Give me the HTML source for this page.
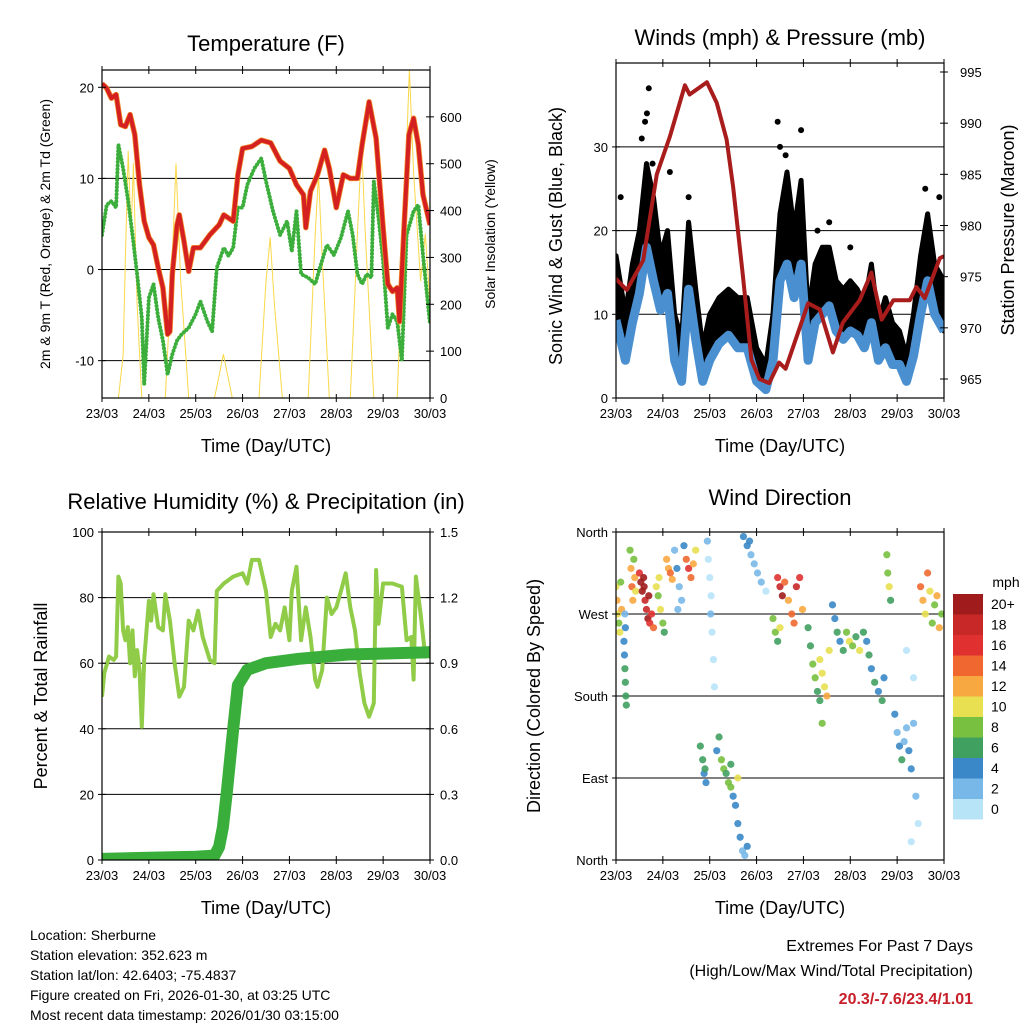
<!DOCTYPE html>
<html><head><meta charset="utf-8"><style>
body{margin:0;background:#fff;}
svg{display:block;font-family:"Liberation Sans",sans-serif;}
</style></head><body>
<svg id="c" width="1024" height="1024" viewBox="0 0 1024 1024"></svg>
<script>
// ---- data ----
const redTimes=[0,.1,.2,.3,.4,.5,.6,.7,.8,.9,1,1.1,1.2,1.3,1.4,1.45,1.5,1.6,1.65,1.75,1.85,1.95,2.1,2.3,2.5,2.6,2.8,2.9,3,3.2,3.4,3.6,3.8,4,4.15,4.3,4.35,4.45,4.6,4.75,4.85,5,5.15,5.3,5.45,5.55,5.7,5.85,6,6.1,6.2,6.3,6.35,6.45,6.55,6.65,6.75,6.85,7];
const tempRed=[20.4,19.9,18.8,19.2,15.9,15.7,17,14.8,9.3,5.3,3.5,2.7,0.2,-2,-7.1,-6.8,-0.5,4.9,6,3.1,-0.2,2.4,2.4,3.8,4.9,6,5.3,10.4,13.3,13.5,14.2,13.9,11.9,11.1,9.3,8.2,4.6,8.6,10.4,13.1,11.1,6.8,10.4,10,10,13.7,18.4,14.4,4.6,-1.6,-2.4,-2,-5.7,4.9,14.8,16.6,13.7,8.2,4.9];
const dewTimes=[0,.1,.2,.3,.35,.45,.55,.65,.75,.85,.9,1,1.1,1.2,1.3,1.4,1.5,1.6,1.7,1.85,2,2.1,2.25,2.35,2.45,2.6,2.7,2.8,2.9,3,3.1,3.25,3.4,3.5,3.65,3.8,3.95,4.05,4.15,4.25,4.4,4.55,4.65,4.8,4.95,5.1,5.25,5.35,5.45,5.55,5.65,5.75,5.8,5.9,6,6.1,6.2,6.3,6.4,6.5,6.65,6.75,6.85,7];
const dewGreen=[3.8,7.1,7.5,6.8,13.7,11.1,7.8,3.8,-0.5,-5.3,-12.6,-3.1,-1.6,-5.3,-7.8,-11.5,-9.3,-7.8,-7.1,-6.4,-4.9,-3.5,-5.7,-6.8,0.2,2.4,1.5,2.4,6.8,6.8,9.3,11.1,12.2,9.7,6.4,3.8,5.3,2,6.4,-0.5,-0.9,-1.6,0.2,2.7,1.6,3.5,6.4,3.8,-0.5,-1.6,-0.5,-0.9,9.7,5.7,0.9,-6.4,-4.9,-5.7,-10,3.8,6.4,7.1,1.6,-6];
const solarTimes=[0,0.35,0.45,0.5,0.56,0.62,0.67,0.75,0.85,1.35,1.5,1.58,1.68,1.85,2.4,2.59,2.78,3.35,3.5,3.59,3.68,3.85,4.4,4.55,4.62,4.7,4.85,5.3,5.45,5.54,5.62,5.8,6.3,6.45,6.56,6.65,6.8,6.9,7];
const solarVals=[0,0,90,300,527,350,500,200,0,0,300,500,250,0,0,93,0,0,250,342,200,0,0,350,477,300,0,0,350,541,350,0,0,400,700,480,250,350,200];
const windTimes=[0,.2,.35,.5,.65,.8,.95,1.1,1.25,1.4,1.55,1.7,1.85,2,2.2,2.4,2.6,2.8,3,3.2,3.35,3.5,3.65,3.8,3.95,4.1,4.25,4.4,4.55,4.7,4.85,5,5.15,5.3,5.45,5.6,5.75,5.9,6.05,6.2,6.35,6.5,6.65,6.8,7];
const windMean=[9.3,4.5,9,12.5,18,14,10.5,12.5,4.5,2,13,7,2,4.5,6.5,7.5,6,6,2,1,4.5,14,16,12,16,4.5,9,10,11,8,7,8,7.5,6,9,4.5,6,4,4,2,5,10,14,10,8];
const windGust=[17,10,16,20,28,24,17,20,10,7,21,13,6,10,12,13,12,12,6,4,10,22,27,20,26,10,16,18,18,14,13,14,13,11,16,9,12,9,8,5,10,17,22,16,14];
const gustPeakTimes=[0.55,0.62,0.66,0.7,0.78,0.1,1.15,1.55,3.45,3.5,3.62,3.95,4.3,4.55,5.0,6.6,6.9];
const gustPeakVals=[31,33,34,37,28,24,27,24,33,30,29,32,20,21,18,25,24];
const presTimes=[-0.05,.23,.58,.87,1.15,1.47,1.57,1.94,2.15,2.36,2.5,2.71,2.89,3.06,3.27,3.48,3.62,4.1,4.35,4.63,4.84,5.2,5.45,5.67,5.92,6.27,6.41,6.59,6.91,7];
const pressure=[975,973.7,976.6,985,988.7,993.7,992.8,994,992,988.4,983.8,975,966.9,965,964.6,966.6,966,972.4,971.8,967.6,970.5,972.7,975.4,970.8,972.7,972.7,974,972.9,976.8,977];
const rhTimes=[0,.05,.15,.25,.3,.35,.4,.45,.5,.55,.6,.65,.7,.75,.8,.85,.9,1,1.05,1.1,1.2,1.3,1.35,1.45,1.55,1.65,1.75,1.85,1.95,2.05,2.15,2.3,2.4,2.45,2.6,2.8,3,3.1,3.2,3.35,3.5,3.6,3.7,3.8,3.9,4,4.05,4.15,4.25,4.35,4.45,4.55,4.6,4.7,4.8,4.9,5,5.1,5.2,5.3,5.4,5.5,5.6,5.7,5.8,5.85,5.9,6,6.2,6.4,6.5,6.6,6.65,6.7,6.8,6.9,7];
const rh=[49.8,57,62,61,62,86.4,84.3,70,67,71,60,70,56,64,58,40.6,61,79,73,81,71,70,81,73,60,49.8,52.8,73,70,76,68,61,60,82,84.3,86.4,87.4,84.3,91.5,91.5,82,68,72,70,77,67,82,89.4,67,77,68,55,52.8,58,80,75,77,82,87.4,77,70,57,47.8,43.7,47.8,88.4,72,84.3,84.3,83.3,67,68,55,86.4,75,62,65];
const precTimes=[0,1,2,2.4,2.5,2.58,2.66,2.8,2.9,3.1,3.5,4.2,5.25,7];
const precip=[0.005,0.01,0.015,0.02,0.06,0.15,0.3,0.6,0.8,0.87,0.9,0.92,0.94,0.95];
// wind direction observations: [day, degrees, mph]
const windDirObs=[
[0.0,300,10],[0.02,285,12],[0.04,270,11],[0.06,260,9],[0.08,250,10],[0.1,305,8],[0.12,275,12],
[0.17,240,5],[0.18,225,4],[0.19,210,6],[0.2,195,7],[0.21,180,6],[0.22,170,7],[0.2,255,4],[0.19,270,3],
[0.3,340,9],[0.32,320,13],[0.34,300,14],[0.36,285,12],[0.38,330,8],[0.4,310,13],[0.42,295,11],
[0.5,315,17],[0.53,305,20],[0.56,295,21],[0.59,310,22],[0.62,285,19],[0.65,275,18],[0.68,265,20],[0.72,260,16],[0.76,270,17],[0.8,255,15],[0.6,300,20],[0.7,290,21],
[0.86,300,10],[0.9,290,9],[0.95,275,10],[1.0,260,8],[1.03,250,7],[0.92,310,11],
[1.08,330,12],[1.12,320,13],[1.16,315,14],[1.2,308,12],
[1.25,340,3],[1.3,320,4],[1.35,300,2],[1.4,285,3],[1.45,345,4],[1.32,275,3],
[1.5,330,14],[1.55,320,16],[1.6,310,15],[1.65,325,13],[1.7,340,10],
[1.95,350,2],[1.97,330,1],[2.0,310,0],[2.03,290,1],[2.05,250,1],[2.08,220,0],[2.1,190,1],[2.02,270,2],
[1.8,125,6],[1.85,110,7],[1.88,95,5],[1.92,85,4],[1.9,100,7],
[2.15,120,4],[2.2,135,6],[2.25,110,8],[2.3,100,9],[2.35,95,7],[2.4,85,8],[2.45,80,9],[2.5,70,5],[2.55,60,4],[2.6,40,4],[2.65,25,4],[2.7,10,3],[2.75,5,2],[2.8,15,4],[2.6,90,10],[2.45,105,7],
[2.72,355,4],[2.8,345,4],[2.88,335,3],[2.95,325,2],[3.02,315,3],[3.1,305,2],[3.2,295,1],[2.85,350,5],
[3.45,310,16],[3.5,300,18],[3.55,290,20],[3.6,305,14],[3.68,285,12],[3.75,270,15],[3.85,300,19],[3.92,310,17],[3.98,275,12],[3.8,260,14],
[3.35,265,9],[3.4,250,8],[3.45,240,7],[3.5,255,10],
[4.1,255,6],[4.15,235,7],[4.2,215,8],[4.25,200,8],[4.3,185,7],[4.35,175,7],
[4.35,220,10],[4.4,205,11],[4.45,190,10],[4.5,180,12],[4.55,230,11],[4.4,150,9],
[4.62,280,4],[4.67,265,5],[4.72,250,6],[4.78,240,5],[4.85,230,7],
[4.92,250,9],[4.98,240,10],[5.05,235,8],[5.12,245,7],[5.2,230,10],[5.28,250,7],
[5.35,240,5],[5.4,225,6],[5.45,210,4],[5.52,195,6],[5.6,185,5],[5.68,175,6],[5.72,200,4],
[5.78,335,8],[5.8,315,9],[5.83,300,10],[5.86,285,7],
[5.95,160,4],[6.0,140,3],[6.05,125,5],[6.1,110,6],[6.15,130,2],[6.2,145,3],[6.25,120,4],[6.3,100,5],[6.35,150,2],
[6.2,230,1],[6.35,200,1],[6.4,70,2],[6.45,40,1],[6.3,20,1],
[6.5,300,14],[6.55,285,12],[6.6,270,10],[6.65,315,15],[6.7,295,11],[6.75,260,9],[6.8,280,8],[6.85,290,13],[6.9,255,12],[6.95,270,9]
];
const tempTicks=[20,10,0,-10];
const solarTicks=[0,100,200,300,400,500,600];
const windTicks=[0,10,20,30];
const presTicks=[965,970,975,980,985,990,995];
const rhTicks=[0,20,40,60,80,100];
const precTicks=[0.0,0.3,0.6,0.9,1.2,1.5];
const dirTicks=[0,90,180,270,360];
const dirLabels=["North","East","South","West","North"];
const dayLabels=["23/03","24/03","25/03","26/03","27/03","28/03","29/03","30/03"];
const speedLabels=["0","2","4","6","8","10","12","14","16","18","20+"];
const speedColors=['#b8e4f8','#78b8e8','#3a88c8','#40a060','#78c040','#e8e050','#f8a840','#f06830','#e03030','#c82828','#a01c1c'];

const S="http://www.w3.org/2000/svg", svg=document.getElementById('c');
function el(tag,a,parent){const e=document.createElementNS(S,tag);for(const k in a)e.setAttribute(k,a[k]);(parent||svg).appendChild(e);return e;}
function txt(x,y,s,size,anchor,parent,extra){const t=el('text',Object.assign({x:x,y:y,'font-size':size,'text-anchor':anchor||'middle',fill:'#000'},extra||{}),parent);t.textContent=s;return t;}
function scale(d0,d1,r0,r1){return v=>r0+(v-d0)/(d1-d0)*(r1-r0);}
function pts(xs,ys,fx,fy){return xs.map((x,i)=>fx(x).toFixed(1)+','+fy(ys[i]).toFixed(1));}
function line(xs,ys,fx,fy,a,parent){return el('polyline',Object.assign({points:pts(xs,ys,fx,fy).join(' '),fill:'none','stroke-linejoin':'round'},a),parent);}

function panel(name){
  const g=el('g',{});
  
  
  return g;
}
function clip(id,x0,y0,w,h){const cp=el('clipPath',{id:id});el('rect',{x:x0,y:y0,width:w,height:h},cp);}
function frame(g,x0,y0,w,h){const r=el('rect',{x:x0,y:y0,width:w,height:h,fill:'none',stroke:'#000','stroke-width':1.2},g);}
function xAxis(g,x0,y0,w,h){
  const fx=scale(0,7,x0,x0+w);
  dayLabels.forEach((d,i)=>{const x=fx(i);
    el('line',{x1:x,x2:x,y1:y0+h+4,y2:y0+h-4,stroke:'#000'},g);
    el('line',{x1:x,x2:x,y1:y0-4,y2:y0+4,stroke:'#000'},g);
    const t=txt(x,y0+h+20,d,13,'middle',g);});
  const t=txt(x0+w/2,y0+h+54,'Time (Day/UTC)',18,'middle',g);
  return fx;
}
function grid(g,x0,w,ys){ys.forEach(y=>el('line',{x1:x0,x2:x0+w,y1:y,y2:y,stroke:'#000','stroke-width':1},g));}

// ---- Temperature panel ----
(function(){
  const x0=102,y0=70,w=328,h=328;const g=panel('temperature-panel');clip('cp1',x0,y0,w,h);
  const fy=scale(-14.1,21.9,y0+h,y0), fs=scale(0,700,y0+h,y0);
  const fx=xAxis(g,x0,y0,w,h);
  grid(g,x0,w,tempTicks.map(fy));
  const d=el('g',{'clip-path':'url(#cp1)'},g);
  const sl=line(solarTimes,solarVals,fx,fs,{stroke:'#f8d848','stroke-width':1},d);
  const dl=line(dewTimes,dewGreen,fx,fy,{stroke:'#3cae3c','stroke-width':4,'stroke-dasharray':'0.1 3.5','stroke-linecap':'round'},d);
  const ol=line(redTimes,tempRed,fx,fy,{stroke:'#f08a28','stroke-width':5.5},d);
  const rl=line(redTimes,tempRed,fx,fy,{stroke:'#d42020','stroke-width':4},d);
  frame(g,x0,y0,w,h);
  tempTicks.forEach(v=>{el('line',{x1:x0-4,x2:x0+4,y1:fy(v),y2:fy(v),stroke:'#000'},g);const t=txt(x0-8,fy(v)+5,String(v),13,'end',g);});
  solarTicks.forEach(v=>{el('line',{x1:x0+w+4,x2:x0+w-4,y1:fs(v),y2:fs(v),stroke:'#000'},g);const t=txt(x0+w+10,fs(v)+5,String(v),13,'start',g);});
  let t=txt(266,51,'Temperature (F)',22,'middle',g);
  t=txt(0,0,'2m & 9m T (Red, Orange) & 2m Td (Green)',14,'middle',g,{transform:'translate(50,234) rotate(-90)'});
  t=txt(0,0,'Solar Insolation (Yellow)',14,'middle',g,{transform:'translate(495,234) rotate(-90)'});
})();

// ---- Wind panel ----
(function(){
  const x0=616,y0=63,w=328,h=335;const g=panel('wind-panel');clip('cp2',x0,y0,w,h);
  const fy=scale(0,40,y0+h,y0+h-334.8), fp=scale(965,995,379,72);
  const fx=xAxis(g,x0,y0,w,h);
  grid(g,x0,w,[10,20,30].map(fy));
  const d=el('g',{'clip-path':'url(#cp2)'},g);
  const upper=pts(windTimes,windGust,fx,fy), lower=pts(windTimes,windMean,fx,fy).reverse();
  const cloud=el('polygon',{points:upper.concat(lower).join(' '),fill:'#000',stroke:'#000','stroke-width':5,'stroke-linejoin':'round'},d);
  
  
  gustPeakTimes.forEach((tm,i)=>{const c=el('circle',{cx:fx(tm),cy:fy(gustPeakVals[i]),r:3},d);
    
    });
  const bl=line(windTimes,windMean,fx,fy,{stroke:'#4a90d0','stroke-width':9},d);
  const pl=line(presTimes,pressure,fx,fp,{stroke:'#a81c1c','stroke-width':4},d);
  frame(g,x0,y0,w,h);
  windTicks.forEach(v=>{el('line',{x1:x0-4,x2:x0+4,y1:fy(v),y2:fy(v),stroke:'#000'},g);const t=txt(x0-8,fy(v)+5,String(v),13,'end',g);});
  presTicks.forEach(v=>{el('line',{x1:x0+w+4,x2:x0+w-4,y1:fp(v),y2:fp(v),stroke:'#000'},g);const t=txt(x0+w+16,fp(v)+5,String(v),13,'start',g);});
  let t=txt(780,45,'Winds (mph) & Pressure (mb)',22,'middle',g);
  t=txt(0,0,'Sonic Wind & Gust (Blue, Black)',18,'middle',g,{transform:'translate(562,236) rotate(-90)'});
  t=txt(0,0,'Station Pressure (Maroon)',18,'middle',g,{transform:'translate(1014,230) rotate(-90)'});
})();

// ---- RH panel ----
(function(){
  const x0=102,y0=532,w=328,h=328;const g=panel('humidity-precip-panel');clip('cp3',x0,y0,w,h);
  const fy=scale(0,100,y0+h,y0), fp=scale(0,1.5,y0+h,y0);
  const fx=xAxis(g,x0,y0,w,h);
  grid(g,x0,w,[20,40,60,80].map(fy));
  const d=el('g',{'clip-path':'url(#cp3)'},g);
  const rl=line(rhTimes,rh,fx,fy,{stroke:'#90cc48','stroke-width':4},d);
  const pl=line(precTimes,precip,fx,fp,{stroke:'#3aae3a','stroke-width':12,'stroke-linecap':'round'},d);
  frame(g,x0,y0,w,h);
  rhTicks.forEach(v=>{el('line',{x1:x0-4,x2:x0+4,y1:fy(v),y2:fy(v),stroke:'#000'},g);const t=txt(x0-8,fy(v)+5,String(v),13,'end',g);});
  precTicks.forEach(v=>{el('line',{x1:x0+w+4,x2:x0+w-4,y1:fp(v),y2:fp(v),stroke:'#000'},g);const t=txt(x0+w+10,fp(v)+5,v.toFixed(1),13,'start',g);});
  let t=txt(266,509,'Relative Humidity (%) & Precipitation (in)',22,'middle',g);
  t=txt(0,0,'Percent & Total Rainfall',18,'middle',g,{transform:'translate(47,696) rotate(-90)'});
})();

// ---- Wind direction panel ----
(function(){
  const x0=616,y0=532,w=328,h=328;const g=panel('wind-direction-panel');clip('cp4',x0,y0,w,h);
  const fy=scale(0,360,y0+h,y0);
  const fx=xAxis(g,x0,y0,w,h);
  grid(g,x0,w,[90,180,270].map(fy));
  const d=el('g',{'clip-path':'url(#cp4)'},g);
  windDirObs.forEach(o=>{const ci=Math.min(10,Math.floor(o[2]/2));
    const c=el('circle',{cx:fx(o[0]),cy:fy(o[1]),r:3.6,fill:speedColors[ci],'fill-opacity':0.9},d);
    
    });
  frame(g,x0,y0,w,h);
  dirTicks.forEach((v,i)=>{el('line',{x1:x0-4,x2:x0+4,y1:fy(v),y2:fy(v),stroke:'#000'},g);const t=txt(x0-8,fy(v)+5,dirLabels[i],13,'end',g);});
  let t=txt(780,505,'Wind Direction',22,'middle',g);
  t=txt(0,0,'Direction (Colored By Speed)',18,'middle',g,{transform:'translate(540,696) rotate(-90)'});
  const lg=el('g',{},g);
  t=txt(1006,587,'mph',14,'middle',lg);
  for(let i=0;i<11;i++){const y=594+(10-i)*20.5;
    const r=el('rect',{x:953,y:y,width:30,height:20.5,fill:speedColors[i]},lg);
    const tt=txt(991,y+15,speedLabels[i],14,'start',lg);}
})();

// ---- footer ----
const info=["Location: Sherburne","Station elevation: 352.623 m","Station lat/lon: 42.6403; -75.4837","Figure created on Fri, 2026-01-30, at 03:25 UTC","Most recent data timestamp: 2026/01/30 03:15:00"];
info.forEach((s,i)=>{const t=txt(30,940+i*20,s,14,'start');});
let t=txt(973,951,'Extremes For Past 7 Days',16,'end');
t=txt(973,976,'(High/Low/Max Wind/Total Precipitation)',16,'end');
t=txt(973,1004,'20.3/-7.6/23.4/1.01',16,'end',null,{fill:'#c8202a','font-weight':'bold'});
</script>
</body></html>
